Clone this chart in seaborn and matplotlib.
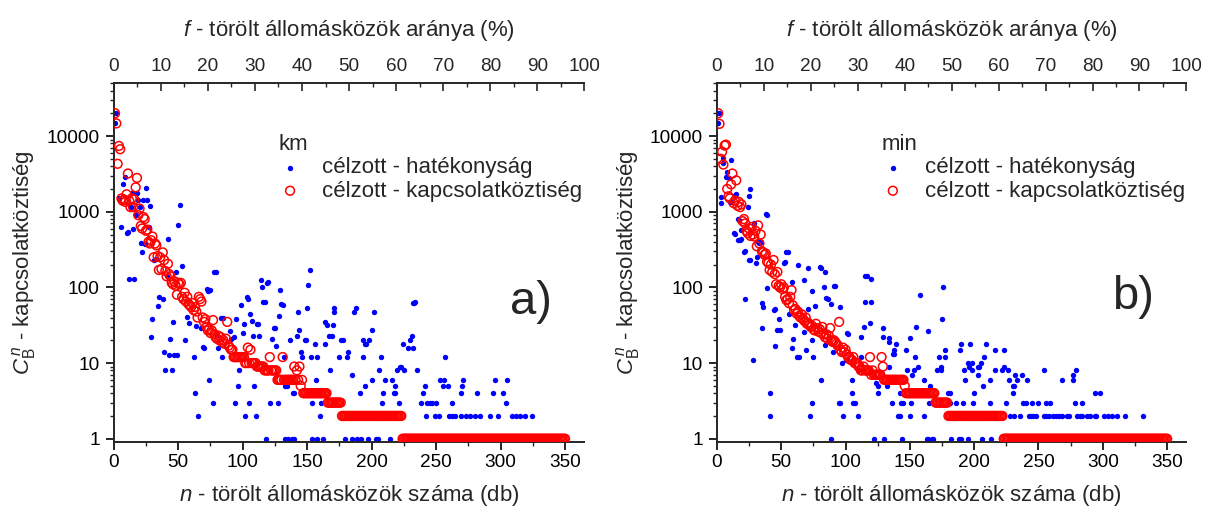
import numpy as np
import matplotlib
matplotlib.use("Agg")
import matplotlib.pyplot as plt
import seaborn as sns
from matplotlib.ticker import MultipleLocator, LogLocator, FuncFormatter, NullFormatter

# total number of station gaps (100 % on the top axis)
N_TOTAL = 365

# --- panel a) km : targeted by connectivity (one value per n) ---
red_a_head = [20000, 14700, 4300, 7400, 6700, 1500, 1400, 1450, 1350, 1700,
              3200, 1400, 1150, 1500, 1150, 1450, 2100, 2800, 900, 1100,
              650, 600, 850, 800, 560, 580, 400, 380, 420, 470,
              250, 380, 360, 260, 170, 250, 175, 290, 230, 165,
              140, 205, 150, 140, 115, 110, 120, 105, 80, 115,
              110, 115, 75, 70, 85, 65, 75, 60, 58, 55,
              62, 50, 55, 48, 40, 75, 70, 65, 40, 35,
              38, 30, 27, 28, 25, 27, 37, 24, 22, 21,
              23, 20, 22, 19, 20, 18, 21, 35, 17, 16,
              15, 15, 12, 12, 12, 12, 12, 12, 12, 12,
              12, 10, 10, 16, 10, 15, 10, 10, 10, 10,
              9, 9, 9, 9, 9, 9, 8, 8, 8, 8,
              12, 8, 8, 8, 8, 8,
              6, 6, 6, 6, 12, 6, 6, 6, 6, 6, 6, 6, 6, 9, 6, 8, 6, 9, 5, 6]
red_a_levels = [4, 3, 2, 1]
red_a_counts = [19, 11, 47, 127]

# --- panel a) km : targeted by efficiency (n, value) ---
blue_a_pts = [
    (1, 14700), (2, 20000), (4, 1500), (6, 630), (7, 2300), (9, 2900), (10, 520), (11, 540),
    (12, 130), (13, 1150), (14, 1750), (15, 600), (16, 130), (17, 900), (18, 1750), (19, 1450),
    (20, 1150), (21, 385), (22, 290), (23, 1450), (24, 370), (25, 2070), (26, 1450), (27, 630),
    (28, 1200), (29, 22), (30, 38), (31, 230), (33, 240), (34, 56), (35, 75), (38, 71), (39, 14),
    (40, 8), (41, 141), (42, 430), (43, 12.8), (44, 21), (45, 8), (46, 34.5), (47, 12.8), (48, 160),
    (49, 12.8), (50, 665), (51, 1220), (53, 190), (55, 20), (57, 41), (58, 33.6), (62, 12), (63, 4),
    (64, 30.6), (65, 2), (68, 28.7), (69, 16.4), (70, 16), (72, 95), (73, 90), (74, 6), (75, 92),
    (77, 3), (78, 162), (79, 160), (80, 23.5), (81, 15.6), (83, 40), (84, 12), (85, 39.7), (90, 26.5),
    (91, 21), (93, 22), (94, 3), (95, 38), (96, 5), (97, 8), (99, 59), (100, 25), (101, 33), (102, 2),
    (103, 74), (104, 70), (105, 3), (106, 45), (107, 36), (108, 22.7), (109, 5), (110, 2), (111, 33),
    (112, 33), (113, 22.7), (114, 125), (115, 100), (116, 64), (117, 64), (118, 1), (119, 113),
    (120, 118), (121, 3), (123, 21), (124, 29), (125, 29), (126, 17), (127, 3), (128, 42), (129, 92),
    (130, 61), (131, 59), (132, 12), (133, 1), (133, 5), (134, 5), (135, 1), (137, 20), (138, 1),
    (139, 4), (140, 1), (140, 4), (142, 23), (143, 47), (144, 27), (145, 14), (146, 12), (148, 20),
    (149, 20), (150, 53), (151, 107), (152, 170), (153, 12), (154, 1), (154, 3), (156, 18), (157, 6),
    (158, 12), (158, 1), (160, 2), (161, 3), (162, 1), (164, 18), (164, 35), (165, 32), (167, 23),
    (168, 8), (169, 23), (170, 32), (171, 47), (171, 53), (175, 12), (176, 20), (178, 20), (179, 1),
    (181, 12), (182, 14), (185, 1), (185, 7), (186, 47), (188, 53), (189, 1), (191, 4), (192, 1),
    (193, 12), (193, 20), (195, 5), (195, 18), (196, 18), (197, 1), (198, 20), (200, 6), (200, 27),
    (202, 47), (203, 1), (205, 1), (206, 8), (207, 12), (208, 3), (209, 4), (210, 6), (214, 1),
    (216, 6), (217, 4), (218, 4), (218, 5), (220, 8), (221, 3), (222, 9), (223, 9), (224, 18),
    (225, 8), (228, 16), (230, 20), (231, 23), (232, 16), (232, 62), (233, 62), (234, 65), (235, 8),
    (238, 3), (240, 4), (241, 5), (242, 2), (243, 3), (245, 3), (247, 3), (249, 2), (250, 3),
    (252, 2), (253, 6), (255, 5), (256, 6), (257, 12), (259, 5), (260, 2), (262, 2), (262, 3),
    (265, 2), (269, 2), (269, 4), (270, 5), (271, 6), (273, 2), (276, 2), (280, 2), (282, 4),
    (284, 2), (292, 2), (294, 4), (296, 6), (298, 2), (302, 4), (304, 3), (305, 6), (309, 2),
    (312, 2), (315, 2), (319, 2), (324, 2),
]

# --- panel b) min : targeted by connectivity (one value per n) ---
red_b_head = [20000, 14500, 5000, 6200, 4200, 7500, 7700, 2000, 1600, 1500,
              2300, 3200, 1300, 1400, 2600, 1200, 1350, 1150, 1250, 750,
              800, 700, 560, 520, 600, 480, 630, 500, 470, 560,
              350, 660, 380, 500, 300, 290, 270, 280, 220, 210,
              170, 200, 160, 230, 150, 110, 160, 105, 100, 110,
              95, 100, 75, 68, 70, 62, 75, 92, 58, 50,
              52, 45, 48, 42, 40, 44, 38, 36, 40, 33,
              34, 32, 30, 31, 28, 27, 33, 29, 26, 28,
              25, 30, 24, 22, 24, 21, 23, 29, 20, 19,
              20, 19, 18, 17, 35, 15, 14, 16, 14, 15,
              13, 12, 12, 11, 11, 12, 10, 10, 10, 9,
              9, 8, 8, 9, 8, 8, 8, 8, 12, 7,
              8, 7, 7, 7, 7, 7, 7, 12, 9,
              6, 6, 6, 6, 6, 6, 6, 6, 6, 6, 6, 6, 6, 6, 6, 6, 5]
red_b_levels = [4, 3, 2, 1]
red_b_counts = [23, 10, 43, 128]

# --- panel b) min : targeted by efficiency (n, value) ---
blue_b_pts = [
    (1, 14700), (2, 20300), (3, 1560), (3, 1300), (5, 5100), (5, 4400), (8, 3370), (7, 2850),
    (9, 2800), (10, 1340), (11, 1340), (11, 4800), (13, 530), (14, 510), (14, 1650), (15, 1700),
    (16, 800), (16, 420), (17, 780), (18, 425), (19, 440), (19, 570), (21, 290), (22, 300), (22, 71),
    (24, 1160), (25, 1600), (25, 230), (26, 1970), (26, 230), (28, 11), (29, 710), (30, 207),
    (31, 253), (32, 395), (33, 390), (34, 400), (35, 29), (35, 62), (36, 55), (38, 940), (39, 900),
    (39, 97), (41, 4), (41, 2), (44, 51), (45, 52), (45, 17), (47, 27), (48, 38), (49, 27),
    (52, 212), (53, 215), (54, 290), (55, 295), (56, 45), (58, 118), (58, 15.6), (59, 21), (61, 32),
    (62, 12), (63, 198), (64, 12), (68, 125), (68, 26), (69, 15), (71, 178), (71, 52), (72, 2),
    (74, 90), (74, 20), (74, 3), (75, 12), (76, 56), (80, 184), (81, 180), (81, 6), (83, 100),
    (84, 160), (84, 17.4), (85, 72), (86, 70), (89, 61), (89, 1), (90, 14), (91, 103), (92, 103),
    (95, 3), (96, 55), (96, 3), (97, 10), (98, 2), (100, 11), (101, 25), (102, 24), (105, 4),
    (105, 6), (106, 3), (107, 3), (110, 8), (110, 2), (112, 22), (112, 12), (114, 30), (115, 140),
    (115, 65), (117, 140), (119, 33.5), (120, 130), (120, 65), (122, 1), (123, 6.5), (124, 5.5),
    (125, 4), (125, 5), (129, 22), (129, 29), (130, 1), (132, 5), (134, 19), (134, 9), (134, 21.6),
    (136, 3), (137, 13), (138, 15), (138, 13), (139, 18), (141, 2), (142, 2), (142, 4), (143, 3),
    (144, 1), (145, 3), (147, 15), (148, 8), (150, 2), (150, 21.6), (151, 3), (152, 7), (153, 8),
    (154, 12), (155, 30), (156, 9), (158, 79), (161, 6), (161, 2), (163, 1), (164, 1), (164, 26.4),
    (165, 3), (166, 5), (167, 1), (168, 1), (171, 8), (173, 12), (174, 8), (174, 9), (175, 38),
    (176, 100), (177, 15), (177, 12), (180, 4), (181, 3), (181, 4), (182, 1), (186, 3), (188, 1),
    (189, 15), (190, 1), (190, 17.8), (191, 3), (192, 8), (193, 6), (195, 1), (195, 10), (196, 9),
    (197, 17.8), (198, 8), (198, 10), (199, 3), (200, 4), (203, 7), (203, 9), (204, 9), (205, 10),
    (206, 1), (207, 5), (208, 12), (209, 17.8), (212, 6), (212, 3), (213, 1), (216, 8), (216, 15),
    (222, 8), (223, 9), (223, 15), (225, 3), (226, 8), (227, 6), (228, 2), (230, 4), (230, 5),
    (231, 2), (231, 5), (232, 7), (233, 6), (236, 2), (237, 7), (238, 3), (240, 3), (241, 6),
    (243, 2), (244, 2), (245, 3), (246, 2), (248, 2), (250, 3), (254, 2), (254, 8), (256, 2),
    (256, 3), (258, 2), (259, 3), (261, 2), (264, 2), (266, 2), (268, 2), (268, 6), (272, 2),
    (274, 2), (277, 7), (277, 6), (278, 3), (279, 8), (280, 2), (282, 2), (284, 2), (284, 3),
    (288, 2), (290, 2), (294, 2), (294, 4), (295, 2), (298, 4), (301, 2), (304, 2), (307, 2),
    (311, 2), (317, 2), (331, 2),
]

LABEL_BLUE = "célzott - hatékonyság"
LABEL_RED = "célzott - kapcsolatköztiség"


def red_series(head, levels, counts):
    vals = list(head)
    for lv, c in zip(levels, counts):
        vals += [lv] * c
    return list(range(1, len(vals) + 1)), vals


sns.set_style("ticks")
plt.rcParams["font.family"] = ["Liberation Sans", "DejaVu Sans"]
plt.rcParams["mathtext.fontset"] = "custom"
plt.rcParams["mathtext.rm"] = "Liberation Sans"
plt.rcParams["mathtext.it"] = "Liberation Sans:italic"
plt.rcParams["axes.linewidth"] = 1.4

fig = plt.figure(figsize=(12.1, 5.09), dpi=100)
ax_a = fig.add_axes([0.094, 0.1316, 0.389, 0.705])
ax_b = fig.add_axes([0.5925, 0.1316, 0.388, 0.705])


def draw(ax, blue_pts, red, unit, tag, tag_y):
    bn = [p[0] for p in blue_pts]
    bv = [p[1] for p in blue_pts]
    rn, rv = red
    sns.scatterplot(x=bn, y=bv, ax=ax, color="#0000ff", s=15, linewidth=0,
                    label=LABEL_BLUE, zorder=2)
    sns.scatterplot(x=rn, y=rv, ax=ax, marker="o", s=40, facecolor="none",
                    edgecolor="#ff0000", linewidth=1.1, label=LABEL_RED, zorder=3)

    ax.set_yscale("log")
    ax.set_xlim(0, N_TOTAL)
    ax.set_ylim(0.905, 50000)
    ax.xaxis.set_major_locator(MultipleLocator(50))
    ax.xaxis.set_minor_locator(MultipleLocator(25))
    ax.yaxis.set_major_locator(LogLocator(base=10))
    ax.yaxis.set_minor_locator(LogLocator(base=10, subs=range(2, 10)))
    ax.yaxis.set_major_formatter(FuncFormatter(lambda v, p: f"{v:g}"))
    ax.yaxis.set_minor_formatter(NullFormatter())
    ax.tick_params(axis="both", which="major", labelsize=13.7, length=5.5, width=1.2,
                   direction="out", pad=3, colors="black")
    ax.tick_params(axis="y", which="major", pad=4.5)
    ax.tick_params(axis="both", which="minor", length=3, width=1.0, direction="out")
    ax.spines["right"].set_visible(False)
    ax.spines["top"].set_visible(False)

    ax.set_xlabel(r"$\mathit{n}$ - törölt állomásközök száma (db)", fontsize=16, labelpad=9)
    ax.set_ylabel(r"$\mathit{C}_{\mathrm{B}}^{\,\mathit{n}}$ - kapcsolatköztiség", fontsize=16)
    ax.yaxis.set_label_coords(-0.16, 0.5)

    sec = ax.secondary_xaxis("top", functions=(lambda n: n * 100.0 / N_TOTAL,
                                               lambda f: f * N_TOTAL / 100.0))
    sec.xaxis.set_major_locator(MultipleLocator(10))
    sec.xaxis.set_minor_locator(MultipleLocator(5))
    sec.tick_params(axis="x", which="major", labelsize=13.7, length=5.5, width=1.2,
                    direction="in", pad=6)
    sec.tick_params(axis="x", which="minor", length=3, width=1.0, direction="in")
    sec.set_xlabel(r"$\mathit{f}$ - törölt állomásközök aránya (%)", fontsize=16, labelpad=16)

    leg = ax.legend(title=unit, loc="upper left", bbox_to_anchor=(0.351, 0.858),
                    frameon=False, fontsize=16, title_fontsize=16, borderpad=0,
                    borderaxespad=0, handlelength=1.0, handletextpad=0.93,
                    labelspacing=0.1)
    leg._legend_box.align = "left"

    ax.text(0.886, tag_y, tag, transform=ax.transAxes, fontsize=34,
            ha="center", va="baseline")


draw(ax_a, blue_a_pts, red_series(red_a_head, red_a_levels, red_a_counts), "km", "a)", 0.358)
draw(ax_b, blue_b_pts, red_series(red_b_head, red_b_levels, red_b_counts), "min", "b)", 0.372)

fig.savefig("out.png", dpi=100)
